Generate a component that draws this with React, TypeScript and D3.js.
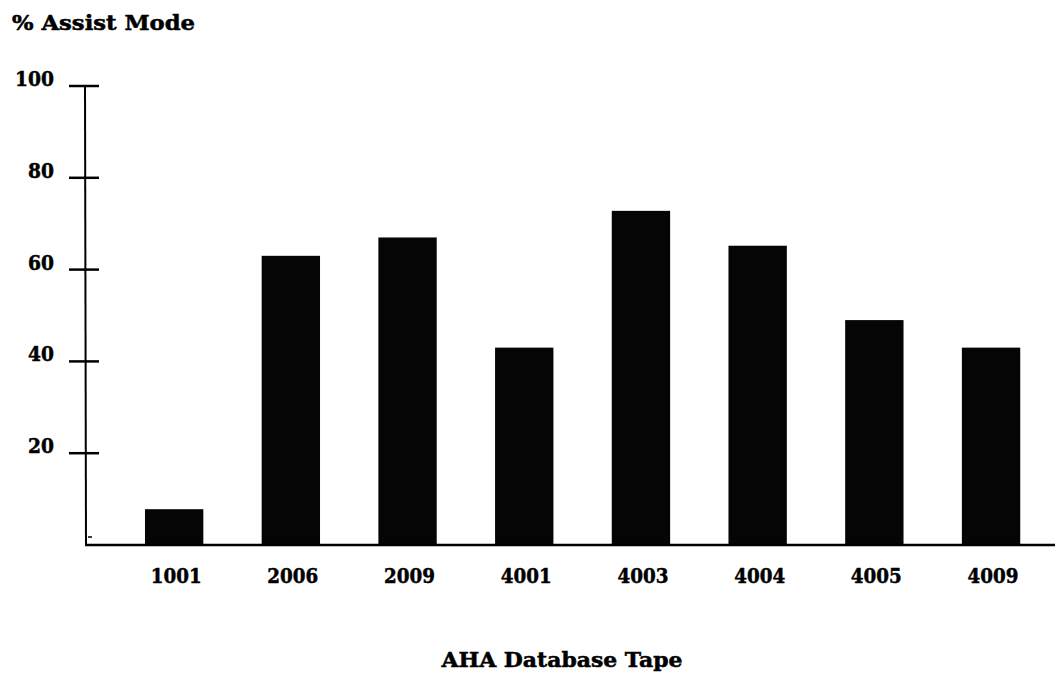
import React from "react";
import * as d3 from "d3";

const categories = ["1001", "2006", "2009", "4001", "4003", "4004", "4005", "4009"];
const values = [7.8, 63, 67, 43, 72.8, 65.2, 49, 43];
const yTicks = [20, 40, 60, 80, 100];
const yTitle = "% Assist Mode";
const xTitle = "AHA Database Tape";

const W = 1055;
const H = 673;
const FONT = "'DejaVu Serif', 'Liberation Serif', serif";
const TXT = { fontFamily: FONT, fontWeight: "bold", fontSize: 20.5, fill: "#000", stroke: "#000", strokeWidth: 0.5 };

export default function App() {
  const y = d3.scaleLinear().domain([0, 100]).range([545, 86]);
  const x = d3
    .scaleBand<string>()
    .domain(categories)
    .range([115.8, 1049.4])
    .paddingInner(0.5)
    .paddingOuter(0.25);

  return (
    <svg
      width={W}
      height={H}
      style={{ position: "absolute", left: 0, top: 0, background: "#fff" }}
    >
      <rect x={0} y={0} width={W} height={H} fill="#fff" />
      {/* title */}
      <text x={12} y={30} {...TXT} textLength={183} lengthAdjust="spacingAndGlyphs">
        {yTitle}
      </text>
      {/* bars */}
      {categories.map((c, i) => (
        <rect
          key={c}
          x={x(c)!}
          y={y(values[i])}
          width={x.bandwidth()}
          height={y(0) - y(values[i])}
          fill="#050505"
        />
      ))}
      {/* y axis */}
      <line x1={85} x2={86} y1={y(100)} y2={y(0) + 1} stroke="#000" strokeWidth={2} />
      {yTicks.map((t) => (
        <g key={t}>
          <line x1={69} x2={99} y1={y(t)} y2={y(t)} stroke="#000" strokeWidth={2.5} />
          <text
            x={54}
            y={y(t)}
            textAnchor="end"
            {...TXT}
            textLength={String(t).length * 13}
            lengthAdjust="spacingAndGlyphs"
          >
            {t}
          </text>
        </g>
      ))}
      {/* x axis */}
      <line x1={85} x2={W} y1={y(0)} y2={y(0)} stroke="#000" strokeWidth={2.5} />
      <line x1={88} x2={92} y1={537} y2={537} stroke="#000" strokeWidth={1.5} />
      {categories.map((c) => (
        <text
          key={c}
          x={x(c)! + x.bandwidth() / 2 + 2}
          y={583}
          textAnchor="middle"
          {...TXT}
          textLength={51}
          lengthAdjust="spacingAndGlyphs"
        >
          {c}
        </text>
      ))}
      <text
        x={562}
        y={667}
        textAnchor="middle"
        {...TXT}
        textLength={241}
        lengthAdjust="spacingAndGlyphs"
      >
        {xTitle}
      </text>
    </svg>
  );
}
